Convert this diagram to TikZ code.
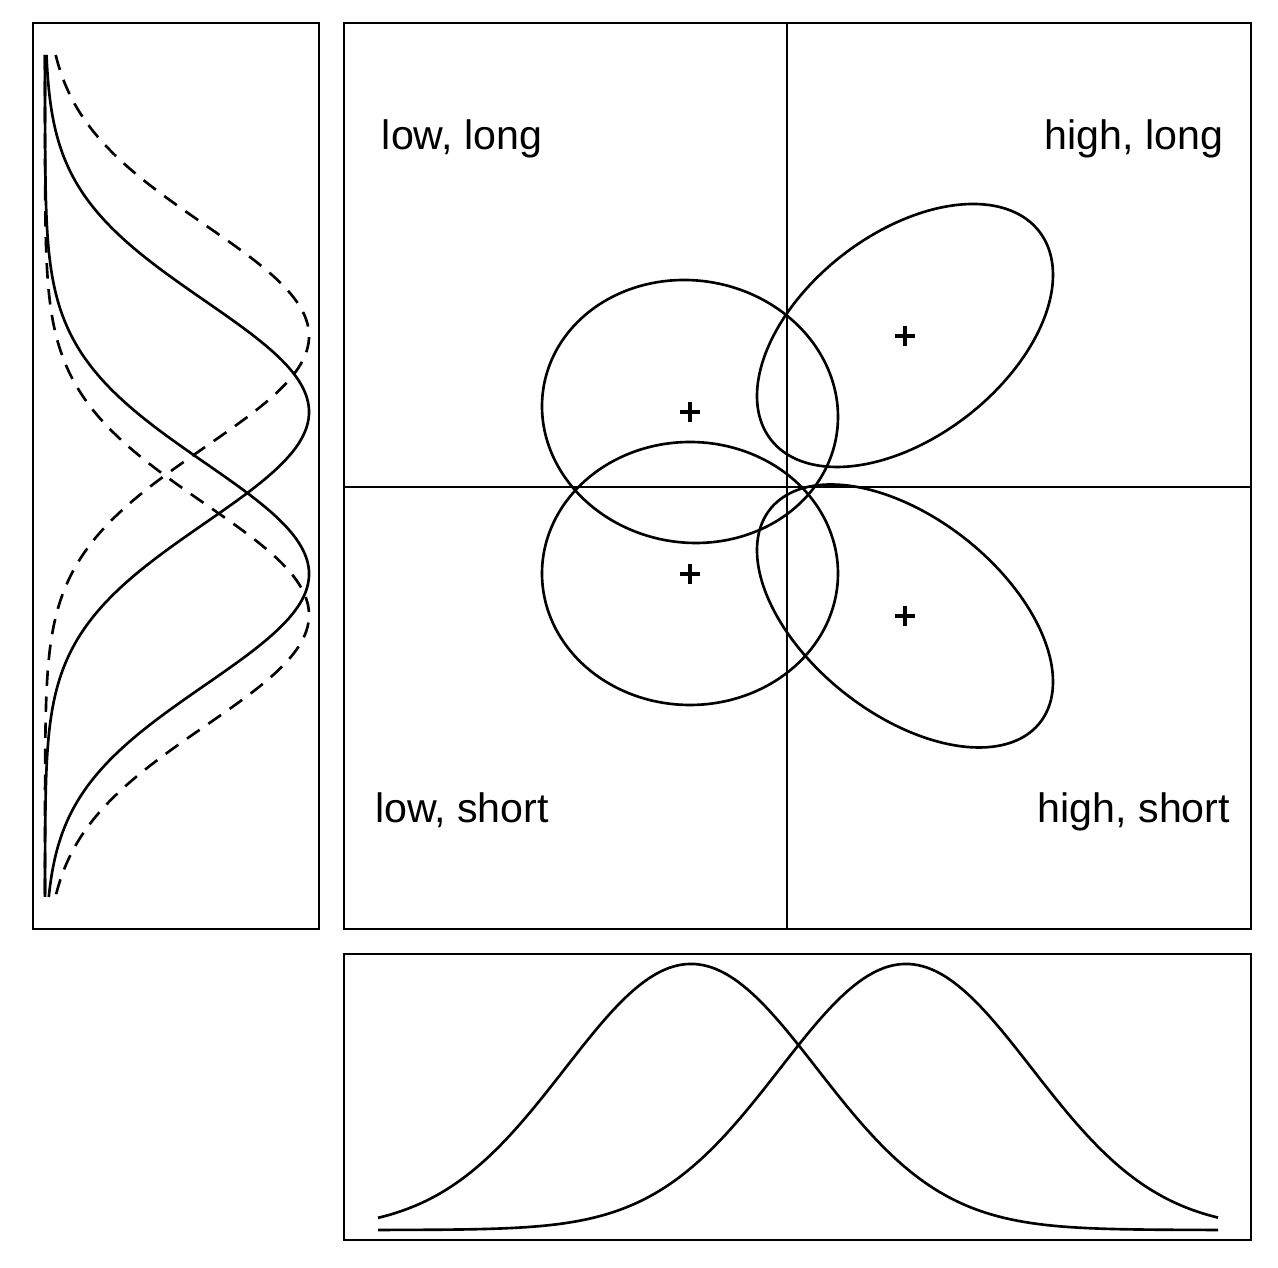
\documentclass[tikz,border=0pt]{standalone}
\usepackage{fontspec}
\setmainfont{Liberation Sans}
\usetikzlibrary{positioning}

\newcommand{\bivcontour}[3]{%
  \draw[curve] plot[domain=0:360, samples=145, smooth, variable=\t]
    ({#1+148*cos(\t)}, {#2+131.5*((#3)*cos(\t)+sqrt(1-(#3)^2)*sin(\t))});}
\newcommand{\centremark}[2]{%
  \draw[curve, line width=0.95pt] (#1-10,#2) -- (#1+10,#2) (#1,#2-10) -- (#1,#2+10);}

\begin{document}
\begin{tikzpicture}[x=0.01cm, y=-0.01cm,
    panel/.style={draw, line width=0.8pt},
    curve/.style={line width=0.75pt},
    dashcurve/.style={curve, dash pattern=on 4.4pt off 3pt},
    lab/.style={font=\fontsize{11.7}{14}\selectfont, anchor=base}]
  \useasboundingbox (0,0) rectangle (1278,1268);

  \draw[panel] (33,23) rectangle (319,929);
  \draw[panel] (344,23) rectangle (1251,929);
  \draw[panel] (344,954) rectangle (1251,1240);

  \draw[curve] (787,23) -- (787,929);
  \draw[curve] (344,487) -- (1251,487);

  \draw (462,150) node [lab] (lowlong) {low, long};
  \draw (1134,150) node [lab] (highlong) {high, long};
  \draw (462,823) node [lab] (lowshort) {low, short};
  \draw (1134,823) node [lab] (highshort) {high, short};

  \bivcontour{690}{411.5}{0.04}
  \bivcontour{905}{335.5}{-0.46}
  \bivcontour{690}{573.5}{0}
  \bivcontour{905}{616}{0.5}
  \centremark{690}{412}
  \centremark{905}{336}
  \centremark{690}{574}
  \centremark{905}{616}

  % marginal densities, left
  \foreach \m in {412,574}
    \draw[curve] plot[domain=55:897, samples=200, smooth, variable=\y]
      ({45+264*exp(-0.5*((\y-\m)/111)^2)}, {\y});
  \foreach \m in {336,615}
    \draw[dashcurve] plot[domain=55:897, samples=200, smooth, variable=\y]
      ({45+264*exp(-0.5*((\y-\m)/111)^2)}, {\y});

  % marginal densities, bottom
  \foreach \m in {691,906}
    \draw[curve] plot[domain=378:1218, samples=200, smooth, variable=\x]
      ({\x}, {1230-266*exp(-0.5*((\x-\m)/126)^2)});
\end{tikzpicture}
\end{document}
